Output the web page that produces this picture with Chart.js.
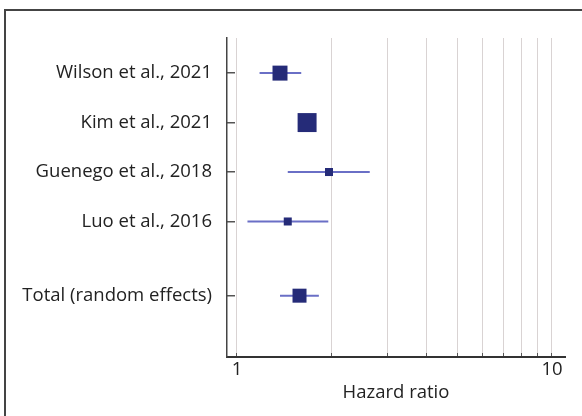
<!DOCTYPE html>
<html>
<head>
<meta charset="utf-8">
<script src="https://cdn.jsdelivr.net/npm/chart.js@4.4.1/dist/chart.umd.min.js"></script>
<style>
  html, body { margin: 0; padding: 0; background: #ffffff; }
  #wrap { position: relative; width: 582px; height: 416px; }
  canvas { display: block; }
</style>
</head>
<body>
<div id="wrap"><canvas id="c" width="582" height="416"></canvas></div>
<script>
// ---- data ----
const studies = ['Wilson et al., 2021', 'Kim et al., 2021', 'Guenego et al., 2018', 'Luo et al., 2016', 'Total (random effects)'];
const rowPos = [0, 1, 2, 3, 4.5];
const hazardRatio = [1.37, 1.67, 1.96, 1.45, 1.58];
const ciLower = [1.18, 1.60, 1.45, 1.08, 1.37];
const ciUpper = [1.60, 1.75, 2.64, 1.95, 1.82];
const weightPct = [31.5, 50.5, 9.0, 9.0, 100];
const xTickValues = [1, 2, 3, 4, 5, 6, 7, 8, 9, 10];
const xTickLabels = ['1', '', '', '', '', '', '', '', '', '10'];

// ---- styles ----
const FONT = "'Open Sans', 'DejaVu Sans', sans-serif";
const SQUARE_COLOR = '#252b78';
const CI_COLOR = '#6a6fc6';
const totalSide = 14;
function sideFor(i) {
  return i === studies.length - 1 ? totalSide : 2.67 * Math.sqrt(weightPct[i]);
}

const ciDatasets = studies.map((s, i) => ({
  type: 'line',
  label: s + ' CI',
  data: [{ x: ciLower[i], y: rowPos[i] }, { x: ciUpper[i], y: rowPos[i] }],
  borderColor: CI_COLOR,
  borderWidth: 2,
  pointRadius: 0,
  fill: false,
  order: 2
}));

const pointDataset = {
  type: 'scatter',
  label: 'Hazard ratio',
  data: studies.map((s, i) => ({ x: hazardRatio[i], y: rowPos[i] })),
  pointStyle: 'rect',
  pointRadius: studies.map((s, i) => sideFor(i) / (2 * Math.SQRT1_2)),
  pointHoverRadius: studies.map((s, i) => sideFor(i) / (2 * Math.SQRT1_2)),
  backgroundColor: SQUARE_COLOR,
  borderColor: SQUARE_COLOR,
  borderWidth: 0,
  order: 1
};

const framePlugin = {
  id: 'frame',
  beforeDraw(chart) {
    const ctx = chart.ctx;
    ctx.save();
    ctx.fillStyle = '#ffffff';
    ctx.fillRect(0, 0, chart.width, chart.height);
    ctx.strokeStyle = '#444444';
    ctx.lineWidth = 2;
    ctx.beginPath();
    ctx.moveTo(5, chart.height + 2);
    ctx.lineTo(5, 10);
    ctx.lineTo(chart.width + 2, 10);
    ctx.stroke();
    ctx.restore();
  }
};

new Chart(document.getElementById('c'), {
  data: { datasets: [...ciDatasets, pointDataset] },
  options: {
    responsive: false,
    animation: false,
    events: [],
    layout: { padding: { left: 0, top: 38, right: 17, bottom: 0 } },
    plugins: { legend: { display: false }, tooltip: { enabled: false } },
    scales: {
      x: {
        type: 'logarithmic',
        min: 0.93,
        max: 11,
        afterBuildTicks: (s) => { s.ticks = xTickValues.map(v => ({ value: v })); },
        afterFit: (s) => { s.height = 59; },
        ticks: {
          autoSkip: false,
          maxRotation: 0,
          padding: 6,
          color: '#222',
          font: { family: FONT, size: 18.5 },
          callback: (v, i) => xTickLabels[i]
        },
        grid: { color: '#d9d3d3', lineWidth: 1, tickColor: '#555', tickLength: -4 },
        border: { display: true, color: '#333', width: 2 },
        title: {
          display: true,
          text: 'Hazard ratio',
          color: '#222',
          font: { family: FONT, size: 18.5 },
          padding: { top: 0, bottom: 12 }
        }
      },
      y: {
        type: 'linear',
        reverse: true,
        min: -0.71,
        max: 5.74,
        afterBuildTicks: (s) => { s.ticks = rowPos.map(v => ({ value: v })); },
        afterFit: (s) => { s.width = 227; },
        ticks: {
          autoSkip: false,
          padding: 23,
          color: '#222',
          font: { family: FONT, size: 18.5 },
          callback: (v, i) => studies[i]
        },
        grid: { display: true, drawOnChartArea: false, drawTicks: true, tickLength: -8, tickColor: '#555', lineWidth: 1.5 },
        border: { display: true, color: '#444', width: 1.5 }
      }
    }
  },
  plugins: [framePlugin]
});
</script>
</body>
</html>
